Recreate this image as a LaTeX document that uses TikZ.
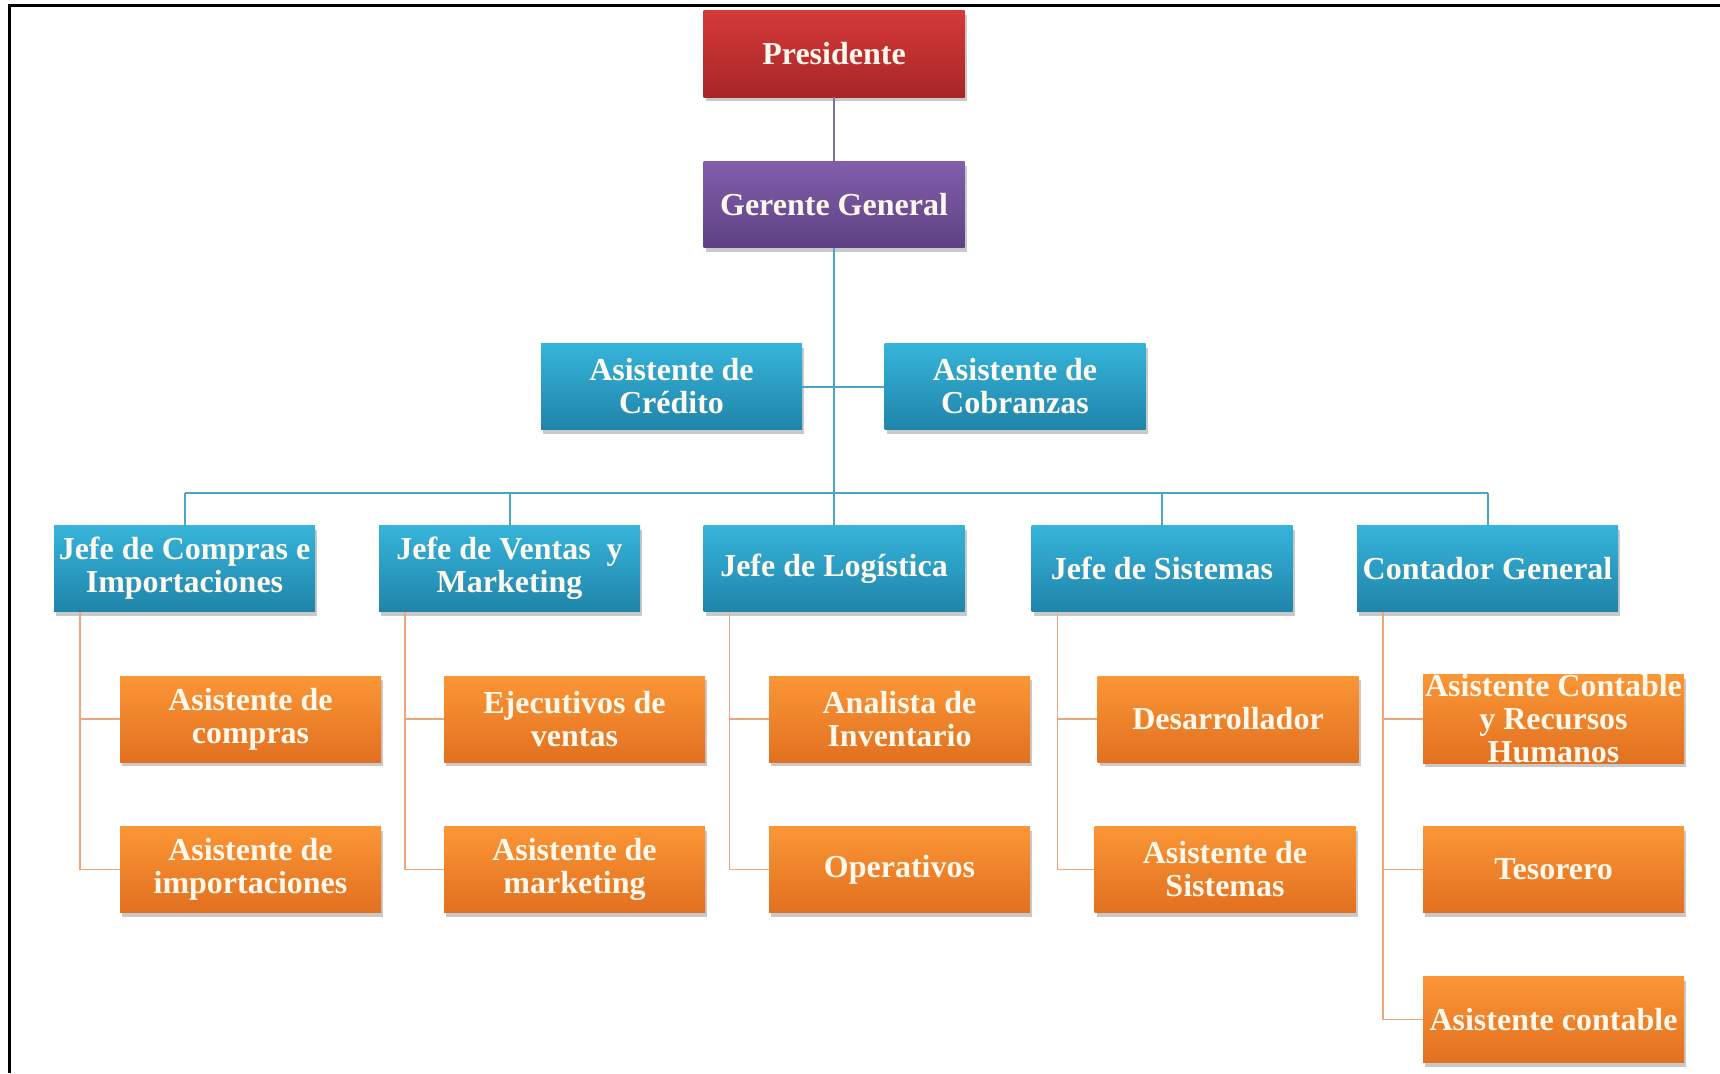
\documentclass[tikz,border=0pt]{standalone}
\usepackage{fontspec}
\setmainfont{Liberation Serif}
\usetikzlibrary{shadows}
\definecolor{redT}{RGB}{212,58,56}
\definecolor{redB}{RGB}{168,38,40}
\definecolor{purT}{RGB}{130,94,170}
\definecolor{purB}{RGB}{94,66,132}
\definecolor{bluT}{RGB}{54,180,218}
\definecolor{bluB}{RGB}{32,132,170}
\definecolor{orgT}{RGB}{251,150,54}
\definecolor{orgB}{RGB}{226,112,32}
\definecolor{purL}{RGB}{122,112,162}
\definecolor{bluL}{RGB}{74,166,196}
\definecolor{orgL}{RGB}{236,166,122}
\definecolor{txt}{RGB}{255,248,236}
\tikzset{
  box/.style={rectangle, inner sep=0pt, text width=261pt, minimum height=86pt,
    align=flush center, text=txt,
    font=\fontsize{32}{33}\selectfont\bfseries,
    drop shadow={shadow xshift=2pt, shadow yshift=-4pt, opacity=0.35, fill=black!60}},
  redbox/.style={box, top color=redT, bottom color=redB},
  purbox/.style={box, top color=purT, bottom color=purB},
  blubox/.style={box, top color=bluT, bottom color=bluB},
  orgbox/.style={box, top color=orgT, bottom color=orgB},
  pline/.style={draw=purL, line width=1.8pt},
  bline/.style={draw=bluL, line width=2pt},
  oline/.style={draw=orgL, line width=1.5pt},
}
\begin{document}
\begin{tikzpicture}[x=1pt, y=-1pt]
\useasboundingbox (0,0) rectangle (1720,1073);
\fill[white] (0,0) rectangle (1720,1073);
\draw[line width=3pt] (9,1073) -- (9,6) -- (1720,6);

\coordinate (bus) at (834,493);
\coordinate (busL) at (184.5,493);
\coordinate (busR) at (1487.5,493);

\node[redbox] (pres) at (834,54) {Presidente};
\node[purbox] (ger) at (834,204.5) {Gerente General};
\node[blubox] (cred) at (671.5,386.5) {Asistente de\\Crédito};
\node[blubox] (cobr) at (1015,386.5) {Asistente de\\Cobranzas};

\node[blubox] (jc) at (184.5,568.5) {Jefe de Compras e\\Importaciones};
\node[blubox] (jv) at (509.5,568.5) {Jefe de Ventas\ \ y\\Marketing};
\node[blubox] (jl) at (834,568.5) {Jefe de Logística};
\node[blubox] (js) at (1162,568.5) {Jefe de Sistemas};
\node[blubox] (cg) at (1487.5,568.5) {Contador General};

\node[orgbox] (c1) at (250.5,719) {Asistente de\\compras};
\node[orgbox] (c2) at (250.5,869.5) {Asistente de\\importaciones};
\node[orgbox] (v1) at (574.5,719) {Ejecutivos de\\ventas};
\node[orgbox] (v2) at (574.5,869.5) {Asistente de\\marketing};
\node[orgbox] (l1) at (899.5,719) {Analista de\\Inventario};
\node[orgbox] (l2) at (899.5,869.5) {Operativos};
\node[orgbox] (s1) at (1228,719) {Desarrollador};
\node[orgbox] (s2) at (1225,869.5) {Asistente de\\Sistemas};
\node[orgbox] (k1) at (1553.5,719) {Asistente Contable\\y Recursos\\Humanos};
\node[orgbox] (k2) at (1553.5,869.5) {Tesorero};
\node[orgbox] (k3) at (1553.5,1019.5) {Asistente contable};

\draw[pline] (pres.south) -- (ger.north);
\draw[bline] (ger.south) -- (jl.north);
\draw[bline] (cred.east) -- (cobr.west);
\draw[bline] (busL) -- (busR);
\draw[bline] (busL) -- (jc.north);
\draw[bline] (jv.north |- bus) -- (jv.north);
\draw[bline] (js.north |- bus) -- (js.north);
\draw[bline] (busR) -- (cg.north);

\draw[oline] ([xshift=26pt]jc.south west) |- (c1.west);
\draw[oline] ([xshift=26pt]jc.south west) |- (c2.west);
\draw[oline] ([xshift=26pt]jv.south west) |- (v1.west);
\draw[oline] ([xshift=26pt]jv.south west) |- (v2.west);
\draw[oline] ([xshift=26pt]jl.south west) |- (l1.west);
\draw[oline] ([xshift=26pt]jl.south west) |- (l2.west);
\draw[oline] ([xshift=26pt]js.south west) |- (s1.west);
\draw[oline] ([xshift=26pt]js.south west) |- (s2.west);
\draw[oline] ([xshift=26pt]cg.south west) |- (k1.west);
\draw[oline] ([xshift=26pt]cg.south west) |- (k2.west);
\draw[oline] ([xshift=26pt]cg.south west) |- (k3.west);
\end{tikzpicture}
\end{document}
